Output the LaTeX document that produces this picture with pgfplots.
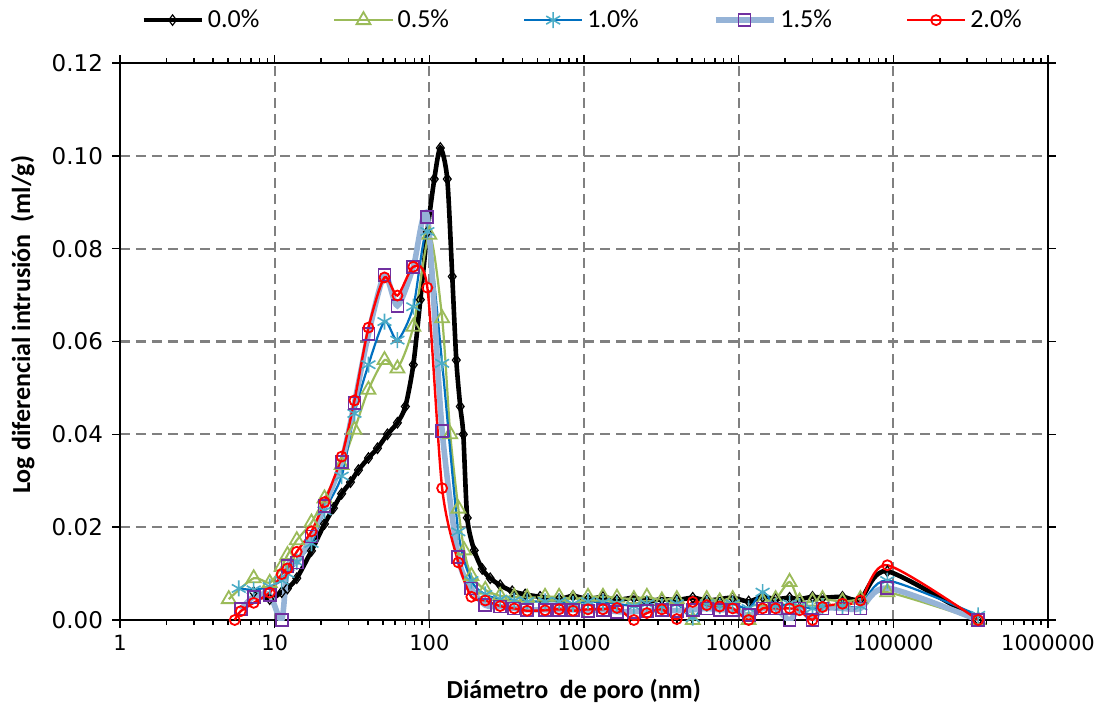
\documentclass[border=0pt]{standalone}
\usepackage{fontspec}
\setmainfont{Carlito}
\newfontfamily\tickfont{DejaVu Sans}
\usepackage{pgfplots}
\pgfplotsset{compat=1.18}
\definecolor{cGreen}{HTML}{9BBB59}
\definecolor{cBlue}{HTML}{0070C0}
\definecolor{cTeal}{HTML}{4BACC6}
\definecolor{cSteel}{HTML}{95B3D7}
\definecolor{cPurple}{HTML}{7030A0}
\definecolor{cGrid}{HTML}{808080}
\begin{document}
\begin{tikzpicture}
\path[use as bounding box] (-60pt,-44pt) rectangle (491pt,310pt);
\begin{axis}[
  at={(0pt,0pt)}, anchor=south west,
  scale only axis, width=464pt, height=278.5pt,
  xmode=log, xmin=1, xmax=1000000,
  ymin=0, ymax=0.12,
  xtick={1,10,100,1000,10000,100000,1000000},
  xticklabels={1,10,100,1000,10000,100000,1000000},
  minor xtick={2,3,4,5,6,7,8,9,20,30,40,50,60,70,80,90,200,300,400,500,600,700,800,900,2000,3000,4000,5000,6000,7000,8000,9000,20000,30000,40000,50000,60000,70000,80000,90000,200000,300000,400000,500000,600000,700000,800000,900000},
  ytick={0,0.02,0.04,0.06,0.08,0.10,0.12},
  yticklabel style={/pgf/number format/.cd, fixed, fixed zerofill, precision=2, assume math mode=true, /tikz/.cd, font=\tickfont\fontsize{11.5}{13}\selectfont, xshift=-1pt},
  scaled y ticks=false,
  xticklabel style={font=\tickfont\fontsize{10.5}{12}\selectfont},
  ticklabel style={text=black},
  tick align=outside,
  major tick length=4pt, minor tick length=2.5pt,
  tick style={black, line width=0.8pt},
  axis line style={black, line width=0.9pt},
  grid=major,
  major grid style={cGrid, line width=1.1pt, dash pattern=on 5pt off 3pt},
  xlabel={Diámetro\ \ de poro (nm)},
  ylabel={Log diferencial intrusión\ \ (ml/g)},
  label style={font=\bfseries\fontsize{13}{15}\selectfont},
  xlabel style={at={(axis description cs:0.489,-0.128)}, anchor=center},
  ylabel style={at={(axis description cs:-0.105,0.53)}, anchor=center},
  legend columns=5,
  legend style={draw=none, fill=none, at={(0.4995,1.077)}, anchor=center,
    font=\fontsize{13}{15}\selectfont,
    /tikz/every even column/.append style={column sep=35pt},
    inner xsep=0pt},
  legend image code/.code={\draw[mark repeat=2,mark phase=2] plot coordinates {(0pt,0pt) (14.5pt,0pt) (29pt,0pt)};},
  every axis plot/.append style={smooth, tension=0.45},
]
% 0.0%
\addplot[black, line width=2.3pt, mark=diamond, mark size=2.6pt, mark options={solid, fill=white, line width=0.6pt}] coordinates {
(7.32,0.0060)(9.29,0.0045)(11.1,0.0060)(12.1,0.0068)(13.9,0.0090)(17.3,0.0149)(21.0,0.0207)(24.0,0.0241)(27.1,0.0272)(30.9,0.0297)(34.8,0.0323)(40.4,0.0349)(46.2,0.0370)(53.6,0.0400)(62.2,0.0425)(70.0,0.0460)(78.8,0.0550)(87.5,0.0690)(97.1,0.0836)(107.7,0.0950)(117.8,0.1017)(130.6,0.0950)(140.7,0.0740)(149.4,0.0560)(158.5,0.0460)(165.8,0.0400)(175.9,0.0220)(195.1,0.0150)(219.8,0.0110)(247.5,0.0090)(287,0.0075)(343.2,0.0062)(416.4,0.0055)(520,0.0050)(690,0.0045)(849,0.0052)(1061,0.0045)(1326,0.0050)(1633,0.0043)(2102,0.0048)(2550,0.0040)(3186,0.0045)(3981,0.0043)(5049,0.0048)(6218,0.0042)(7542,0.0045)(9148,0.0048)(11600,0.0040)(14280,0.0050)(17330,0.0045)(21330,0.0048)(24750,0.0045)(30020,0.0050)(34830,0.0048)(46890,0.0050)(61250,0.0045)(91480,0.0105)(353500,0.0000)
};
\addlegendentry{0.0\%}
% 0.5%
\addplot[cGreen, line width=1.1pt, mark=triangle, mark size=4pt, mark options={solid, fill=white, line width=0.9pt}] coordinates {
(5.05,0.0045)(7.32,0.0090)(9.29,0.0080)(11.1,0.0115)(12.1,0.0140)(13.9,0.0172)(17.3,0.0210)(21.0,0.0262)(27.1,0.0334)(32.8,0.0410)(40.4,0.0496)(51.3,0.0560)(62.2,0.0542)(78.8,0.0632)(100,0.0830)(121,0.0650)(136.6,0.0400)(154,0.0240)(168,0.0150)(187,0.0095)(230,0.0065)(287,0.0052)(354,0.0050)(429,0.0048)(560,0.0050)(690,0.0050)(849,0.0045)(1061,0.0050)(1326,0.0050)(1633,0.0048)(2102,0.0045)(2550,0.0050)(3186,0.0042)(3981,0.0045)(5049,0.0000)(6218,0.0045)(7542,0.0040)(9148,0.0045)(11600,0.0000)(14280,0.0040)(17330,0.0045)(21330,0.0082)(24750,0.0040)(30020,0.0040)(34830,0.0045)(46890,0.0040)(61250,0.0045)(91480,0.0060)(353500,0.0000)
};
\addlegendentry{0.5\%}
% 1.0%
\addplot[cBlue, line width=1.1pt, mark=asterisk, mark size=4pt, mark options={solid, cTeal, line width=0.8pt}] coordinates {
(5.86,0.0068)(7.32,0.0065)(9.29,0.0072)(11.1,0.0085)(12.1,0.0100)(13.9,0.0125)(17.3,0.0165)(21.0,0.0235)(27.1,0.0310)(32.8,0.0445)(40.4,0.0550)(51.3,0.0643)(62.2,0.0603)(78.8,0.0675)(97.1,0.0837)(121,0.0553)(154,0.0190)(187,0.0085)(230,0.0055)(287,0.0045)(354,0.0042)(429,0.0040)(560,0.0040)(690,0.0040)(849,0.0035)(1061,0.0040)(1326,0.0038)(1633,0.0035)(2102,0.0030)(2550,0.0035)(3186,0.0030)(3981,0.0035)(5049,0.0005)(6218,0.0035)(7542,0.0030)(9148,0.0035)(11600,0.0025)(14280,0.0060)(17330,0.0030)(21330,0.0035)(24750,0.0030)(30020,0.0025)(34830,0.0030)(46890,0.0030)(61250,0.0030)(91480,0.0085)(353500,0.0010)
};
\addlegendentry{1.0\%}
% 1.5%
\addplot[cSteel, line width=2.8pt, mark=square, mark size=3pt, mark options={solid, cPurple, fill=white, line width=0.9pt}] coordinates {
(6.03,0.0023)(7.32,0.0050)(9.29,0.0054)(11.1,0.0000)(12.1,0.0116)(13.9,0.0124)(17.3,0.0180)(21.0,0.0246)(27.1,0.0341)(32.8,0.0467)(40.4,0.0616)(51.3,0.0743)(62.2,0.0677)(78.8,0.0761)(97.1,0.0869)(121,0.0408)(154,0.0135)(187,0.0068)(230,0.0032)(287,0.0029)(354,0.0025)(429,0.0022)(560,0.0022)(690,0.0022)(849,0.0022)(1061,0.0020)(1326,0.0022)(1633,0.0018)(2102,0.0018)(2550,0.0020)(3186,0.0022)(3981,0.0020)(5049,0.0022)(6218,0.0025)(7542,0.0022)(9148,0.0022)(11600,0.0010)(14280,0.0025)(17330,0.0025)(21330,0.0000)(24750,0.0025)(30020,0.0000)(34830,0.0025)(46890,0.0025)(61250,0.0025)(91480,0.0069)(353500,0.0000)
};
\addlegendentry{1.5\%}
% 2.0%
\addplot[red, line width=1.2pt, mark=o, mark size=2.5pt, mark options={solid, fill=white, line width=0.9pt}] coordinates {
(5.52,0.0000)(6.03,0.0019)(7.32,0.0037)(9.29,0.0059)(11.1,0.0099)(12.1,0.0111)(13.9,0.0147)(17.3,0.0191)(21.0,0.0254)(27.1,0.0352)(32.8,0.0473)(40.4,0.0630)(51.3,0.0738)(62.2,0.0699)(78.8,0.0761)(97.1,0.0716)(121,0.0284)(154,0.0124)(187,0.0050)(230,0.0042)(287,0.0030)(354,0.0025)(429,0.0020)(560,0.0021)(690,0.0023)(849,0.0020)(1061,0.0023)(1326,0.0023)(1633,0.0026)(2102,0.0000)(2550,0.0015)(3186,0.0023)(3981,0.0002)(5049,0.0039)(6218,0.0032)(7542,0.0029)(9148,0.0025)(11600,0.0000)(14280,0.0025)(17330,0.0025)(21330,0.0025)(24750,0.0021)(30020,0.0000)(34830,0.0028)(46890,0.0035)(61250,0.0042)(91480,0.0118)(353500,0.0000)
};
\addlegendentry{2.0\%}
\end{axis}
\end{tikzpicture}
\end{document}
